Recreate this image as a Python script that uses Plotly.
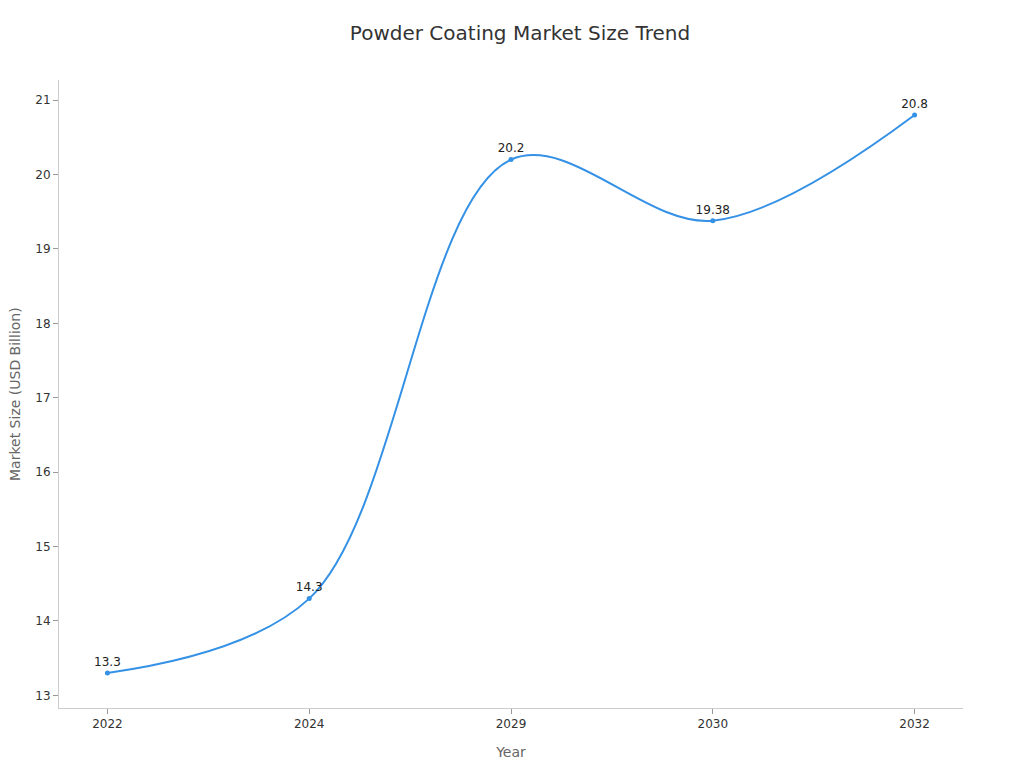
import plotly.graph_objects as go

years = ["2022", "2024", "2029", "2030", "2032"]
market_size = [13.3, 14.3, 20.2, 19.38, 20.8]
labels = ["13.3", "14.3", "20.2", "19.38", "20.8"]

fig = go.Figure()
fig.add_trace(
    go.Scatter(
        x=years,
        y=market_size,
        mode="lines+markers+text",
        line=dict(shape="spline", smoothing=1, color="#3491e5", width=2),
        marker=dict(size=5, color="#3491e5"),
        text=labels,
        textposition="top center",
        textfont=dict(size=12, color="#222222"),
        hoverinfo="x+y",
    )
)

# page body adds an 8px offset, so margins are trimmed to compensate
fig.update_layout(
    title=dict(
        text="Powder Coating Market Size Trend",
        x=0.5,
        xanchor="center",
        y=0.9674,
        yanchor="middle",
        font=dict(size=20, color="#333333"),
    ),
    font=dict(family="DejaVu Sans", color="#333333"),
    width=1024,
    height=768,
    margin=dict(l=51, r=69, t=72, b=68),
    plot_bgcolor="white",
    paper_bgcolor="white",
    showlegend=False,
)

# y title as an annotation so it can sit closer to the page edge
fig.add_annotation(
    text="Market Size (USD Billion)",
    xref="paper",
    yref="paper",
    x=-0.0487,
    y=0.5,
    xanchor="center",
    yanchor="middle",
    textangle=-90,
    showarrow=False,
    font=dict(size=14, color="#666666"),
)

fig.update_xaxes(
    type="category",
    range=[-0.24, 4.24],
    title=dict(text="Year", font=dict(size=14, color="#666666"), standoff=16),
    showgrid=False,
    zeroline=False,
    showline=True,
    linecolor="#cccccc",
    linewidth=1,
    ticks="outside",
    ticklen=5,
    tickcolor="#999999",
    tickfont=dict(size=12, color="#333333"),
)
fig.update_yaxes(
    range=[12.83, 21.27],
    dtick=1,
    automargin=False,
    showgrid=False,
    zeroline=False,
    showline=True,
    linecolor="#cccccc",
    linewidth=1,
    ticks="outside",
    ticklen=5,
    tickcolor="#999999",
    tickfont=dict(size=12, color="#333333"),
)

fig.write_html("out.html")
